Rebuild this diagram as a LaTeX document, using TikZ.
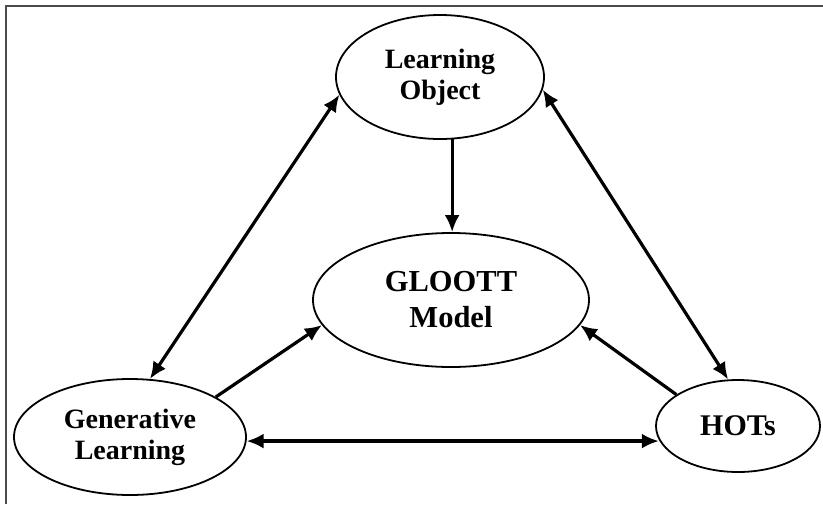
\documentclass[tikz,border=0pt]{standalone}
\usepackage{fontspec}
\setmainfont{Liberation Serif}
\usetikzlibrary{shapes.geometric, arrows.meta}

\begin{document}
\begin{tikzpicture}[x=1pt, y=-1pt, main/.style = {draw, ellipse, line width = 1.8pt, inner sep = 0pt, align = center, font = \bfseries}, arr/.style = {line width = 3.2pt, -{Latex[length=17pt, width=15pt]}}, both/.style = {arr, {Latex[length=17pt, width=15pt]}-{Latex[length=17pt, width=15pt]}}]
        \useasboundingbox (0,0) rectangle (823,504);
        \draw [line width = 2pt, black!70] (6,504) -- (6,6) -- (823,6);

        \node [main, minimum width = 208, minimum height = 124, font = \bfseries\fontsize{28}{31}\selectfont] (lo) at (440, 77) {Learning\\Object};
        \node [main, minimum width = 276, minimum height = 134, font = \bfseries\fontsize{30.5}{36}\selectfont] (gm) at (451, 300) {GLOOTT\\Model};
        \node [main, minimum width = 232, minimum height = 116, font = \bfseries\fontsize{28}{31}\selectfont] (gl) at (130, 437) {Generative\\Learning};
        \node [main, minimum width = 164, minimum height = 92, font = \bfseries\fontsize{30}{34}\selectfont] (hots) at (738, 426) {HOTs};

        \draw [both] (lo.190) -- (gl.71);
        \draw [both] (lo.353) -- (hots.102);
        \draw [arr] (lo.281) -- (lo.281 |- gm.north);
        \draw [arr] (gl.25) -- (gm.191);
        \draw [arr] (hots.153) -- (gm.349);
        \draw [both] (gl.358) -- (gl.358 -| hots.190);
\end{tikzpicture}
\end{document}
